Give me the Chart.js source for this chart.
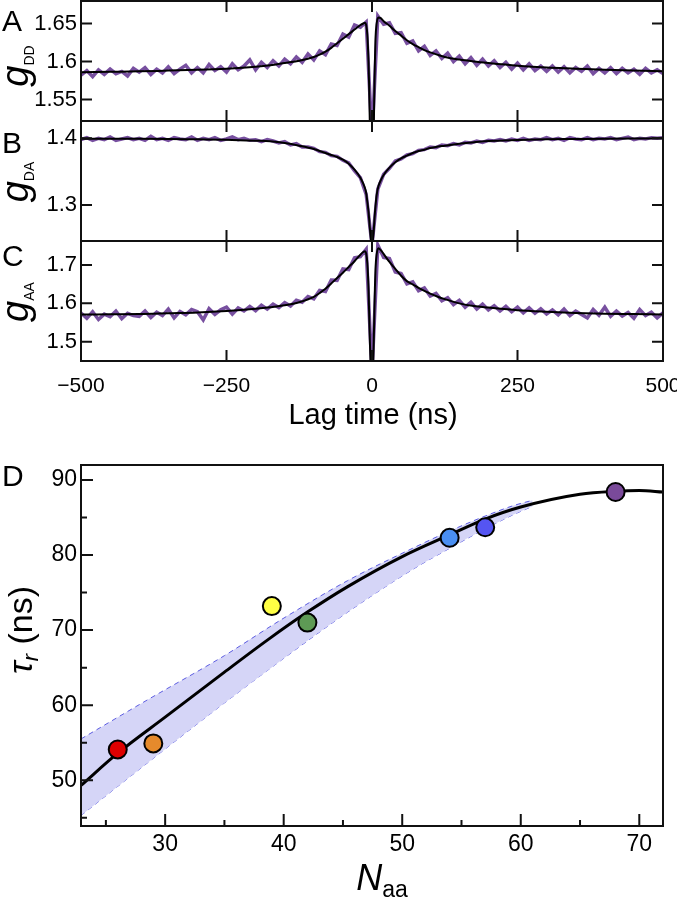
<!DOCTYPE html>
<html>
<head>
<meta charset="utf-8">
<script src="https://cdn.jsdelivr.net/npm/chart.js@4.4.1/dist/chart.umd.min.js"></script>
<style>
  html, body { margin: 0; padding: 0; background: #fff; }
  #wrap { position: relative; width: 677px; height: 900px; background: #fff; overflow: hidden; }
  canvas { position: absolute; left: 0; }
  .lbl { position: absolute; font-family: 'Liberation Sans', Arial, sans-serif; color: #000; line-height: 1; white-space: nowrap; }
  .panel { font-size: 30px; left: 2px; }
  .ylab { transform: translate(-50%, -50%) rotate(-90deg); }
  .xlab { transform: translate(-50%, -50%); }
  .sub { position: relative; }
</style>
</head>
<body>
<div id="wrap">
  <canvas id="chartA" width="677" height="122" style="top:0px"></canvas>
  <canvas id="chartB" width="677" height="122" style="top:120px"></canvas>
  <canvas id="chartC" width="677" height="160" style="top:240px"></canvas>
  <canvas id="chartD" width="677" height="460" style="top:440px"></canvas>

  <div class="lbl panel" style="top:6px">A</div>
  <div class="lbl panel" style="top:128px">B</div>
  <div class="lbl panel" style="top:241px">C</div>
  <div class="lbl panel" style="top:461px">D</div>

  <div class="lbl ylab" style="left:15px;top:66px"><i style="font-size:38px">g</i><span class="sub" style="font-size:14px;top:6px">DD</span></div>
  <div class="lbl ylab" style="left:15px;top:182px"><i style="font-size:38px">g</i><span class="sub" style="font-size:14px;top:6px">DA</span></div>
  <div class="lbl ylab" style="left:15px;top:302px"><i style="font-size:38px">g</i><span class="sub" style="font-size:14px;top:6px">AA</span></div>
  <div class="lbl xlab" style="left:373px;top:414px;font-size:29px">Lag time (ns)</div>

  <div class="lbl ylab" style="left:20px;top:630px"><i style="font-size:34px">τ</i><i class="sub" style="font-size:22px;top:6px">r</i><span style="font-size:34px"> (ns)</span></div>
  <div class="lbl xlab" style="left:382px;top:878px"><i style="font-size:36px">N</i><span class="sub" style="font-size:23px;top:7px">aa</span></div>
</div>

<script>
// lag time grid of the measured correlations (ns)
const lagTimes = [
  -500, -490, -480, -470, -460, -450, -440, -430, -420, -410,
  -400, -390, -380, -370, -360, -350, -340, -330, -320, -310,
  -300, -290, -280, -270, -260, -250, -240, -230, -220, -210,
  -200, -190, -180, -170, -160, -150, -140, -130, -120, -110,
  -100, -90, -80, -70, -60, -50, -40, -30, -20, -10,
  0,
  10, 20, 30, 40, 50, 60, 70, 80, 90, 100,
  110, 120, 130, 140, 150, 160, 170, 180, 190, 200,
  210, 220, 230, 240, 250, 260, 270, 280, 290, 300,
  310, 320, 330, 340, 350, 360, 370, 380, 390, 400,
  410, 420, 430, 440, 450, 460, 470, 480, 490, 500
];

const gddData = [
  1.582, 1.588, 1.580, 1.589, 1.583, 1.590, 1.584, 1.587, 1.581, 1.591,
  1.586, 1.592, 1.583, 1.590, 1.585, 1.593, 1.584, 1.590, 1.595, 1.585,
  1.592, 1.585, 1.596, 1.588, 1.593, 1.586, 1.597, 1.589, 1.594, 1.602,
  1.589, 1.599, 1.592, 1.601, 1.594, 1.603, 1.597, 1.606, 1.599, 1.610,
  1.602, 1.614, 1.609, 1.623, 1.621, 1.636, 1.632, 1.648, 1.645, 1.652,
  1.50,
  1.660, 1.649, 1.651, 1.637, 1.638, 1.624, 1.627, 1.614, 1.620, 1.608,
  1.614, 1.604, 1.611, 1.600, 1.607, 1.597, 1.605, 1.595, 1.603, 1.594,
  1.601, 1.592, 1.599, 1.590, 1.598, 1.589, 1.597, 1.588, 1.594, 1.587,
  1.594, 1.586, 1.593, 1.585, 1.592, 1.587, 1.594, 1.584, 1.591, 1.585,
  1.592, 1.584, 1.591, 1.585, 1.590, 1.583, 1.591, 1.585, 1.589, 1.584
];

const gdaData = [
  1.398, 1.401, 1.397, 1.400, 1.398, 1.402, 1.397, 1.399, 1.401, 1.398,
  1.400, 1.397, 1.403, 1.398, 1.400, 1.397, 1.401, 1.399, 1.398, 1.402,
  1.397, 1.400, 1.398, 1.401, 1.397, 1.399, 1.402, 1.398, 1.400, 1.397,
  1.398, 1.395, 1.398, 1.396, 1.393, 1.395, 1.390, 1.392, 1.387, 1.387,
  1.385, 1.380, 1.379, 1.374, 1.373, 1.367, 1.363, 1.351, 1.341, 1.316,
  1.24,
  1.324, 1.346, 1.355, 1.366, 1.369, 1.375, 1.377, 1.382, 1.383, 1.387,
  1.386, 1.390, 1.389, 1.392, 1.390, 1.394, 1.393, 1.396, 1.394, 1.397,
  1.396, 1.398, 1.396, 1.399, 1.397, 1.400, 1.397, 1.399, 1.398, 1.401,
  1.398, 1.400, 1.397, 1.401, 1.399, 1.398, 1.401, 1.398, 1.400, 1.399,
  1.401, 1.398, 1.400, 1.402, 1.398, 1.400, 1.399, 1.401, 1.400, 1.401
];

const gaaData = [
  1.575, 1.561, 1.578, 1.558, 1.572, 1.565, 1.580, 1.560, 1.574, 1.568,
  1.566, 1.580, 1.563, 1.577, 1.568, 1.585, 1.562, 1.579, 1.570, 1.584,
  1.578, 1.557, 1.586, 1.571, 1.583, 1.590, 1.572, 1.588, 1.580, 1.592,
  1.581, 1.595, 1.585, 1.598, 1.589, 1.602, 1.593, 1.608, 1.603, 1.618,
  1.612, 1.634, 1.631, 1.661, 1.660, 1.690, 1.688, 1.719, 1.722, 1.741,
  1.42,
  1.752, 1.720, 1.717, 1.682, 1.678, 1.651, 1.656, 1.633, 1.640, 1.619,
  1.626, 1.607, 1.615, 1.597, 1.608, 1.590, 1.603, 1.585, 1.598, 1.583,
  1.594, 1.580, 1.592, 1.578, 1.590, 1.575, 1.588, 1.574, 1.586, 1.572,
  1.583, 1.570, 1.585, 1.568, 1.580, 1.571, 1.562, 1.584, 1.569, 1.590,
  1.566, 1.580, 1.567, 1.576, 1.561, 1.584, 1.568, 1.577, 1.562, 1.575
];

// fitted curves, sampled densely around zero lag
const fitLags = [
  -500, -450, -400, -350, -300, -250, -200, -175, -150, -125, -100,
  -90, -80, -70, -60, -50, -40, -30, -20,
  -15, -12, -10, -8, -6, -5, -4, -2, 0, 2, 3, 4, 5, 6, 8, 11, 15,
  20, 30, 40, 50, 60, 70, 80, 90, 100,
  112, 125, 150, 175, 200, 250, 300, 350, 400, 450, 500
];
const gddFit = [
  1.586, 1.5865, 1.587, 1.588, 1.589, 1.5905, 1.593, 1.595, 1.598, 1.601, 1.606,
  1.609, 1.613, 1.618, 1.624, 1.630, 1.636, 1.642, 1.648,
  1.650, 1.651, 1.648, 1.635, 1.60, 1.57, 1.53, 1.46, 1.44, 1.47, 1.51, 1.56, 1.60, 1.63, 1.650, 1.658, 1.657,
  1.653, 1.647, 1.640, 1.634, 1.628, 1.623, 1.619, 1.615, 1.612,
  1.609, 1.606, 1.6025, 1.600, 1.598, 1.5945, 1.592, 1.5905, 1.589, 1.588, 1.587
];
const gdaFit = [
  1.3995, 1.3995, 1.3993, 1.399, 1.3985, 1.398, 1.3965, 1.3955, 1.393, 1.389, 1.384,
  1.381, 1.378, 1.375, 1.372, 1.368, 1.362, 1.353, 1.341,
  1.332, 1.325, 1.318, 1.305, 1.29, 1.28, 1.268, 1.25, 1.235, 1.252, 1.262, 1.275, 1.288, 1.298, 1.315, 1.328, 1.337,
  1.345, 1.356, 1.364, 1.370, 1.374, 1.378, 1.381, 1.383, 1.3855,
  1.3875, 1.389, 1.392, 1.394, 1.396, 1.3975, 1.3985, 1.399, 1.3995, 1.3998, 1.400
];
const gaaFit = [
  1.571, 1.5715, 1.572, 1.574, 1.576, 1.580, 1.586, 1.590, 1.595, 1.603, 1.617,
  1.627, 1.638, 1.652, 1.666, 1.680, 1.695, 1.710, 1.727,
  1.734, 1.736, 1.730, 1.705, 1.64, 1.58, 1.52, 1.43, 1.40, 1.44, 1.50, 1.57, 1.64, 1.69, 1.728, 1.744, 1.739,
  1.729, 1.708, 1.690, 1.672, 1.658, 1.6495, 1.6405, 1.6325, 1.6255,
  1.618, 1.611, 1.600, 1.593, 1.589, 1.582, 1.578, 1.575, 1.573, 1.572, 1.571
];

const lagTicks = [-500, -250, 0, 250, 500];
const gddTicks = [1.55, 1.6, 1.65];
const gdaTicks = [1.3, 1.4];
const gaaTicks = [1.5, 1.6, 1.7];

// panel D
const naa = [26, 29, 39, 42, 54, 57, 68];
const tauR = [54.1, 54.9, 73.2, 71.0, 82.3, 83.7, 88.4];
const pointColors = ['#dd0000', '#e58a2c', '#ffff44', '#5e9a55', '#4a8ff2', '#5555f2', '#7a4a9a'];
const fitN = [22.9, 26, 30, 35, 38.65, 42, 45.4, 50, 54, 57, 60, 65, 68, 70, 72];
const fitTau = [49.3, 53.6, 58.4, 64.4, 68.7, 72.4, 75.8, 79.8, 82.7, 84.8, 86.4, 88.1, 88.5, 88.6, 88.4];
const bandN = [22.9, 28.5, 35, 39.8, 45.4, 51, 54, 57, 59.4, 61];
const bandUpper = [55.5, 60.7, 66.6, 71.4, 76.6, 81.0, 83.2, 85.2, 86.6, 87.3];
const bandLower = [45.3, 52.3, 60.3, 66.0, 72.4, 78.2, 80.9, 83.5, 85.4, 86.5];
const naaTicks = [30, 40, 50, 60, 70];
const naaMinor = [25, 35, 45, 55, 65];
const tauTicks = [50, 60, 70, 80, 90];
const tauMinor = [45, 55, 65, 75, 85];

const purple = '#7850a0';
Chart.defaults.font.family = "'Liberation Sans', Arial, sans-serif";
Chart.defaults.color = '#000';

const pts = (xs, ys) => xs.map((x, i) => ({ x: x, y: ys[i] }));
const fmt = v => (v < 0 ? '\u2212' + Math.abs(v) : String(v));

// box around the plot area with ticks pointing inwards
const frameTicks = {
    id: 'frameTicks',
    afterDatasetsDraw(chart, args, o) {
        const { ctx, chartArea: a } = chart;
        const x = chart.scales.x, y = chart.scales.y;
        ctx.save();
        ctx.strokeStyle = '#111';
        ctx.lineWidth = 2;
        ctx.beginPath();
        [[o.xMajor, o.len], [o.xMinor || [], o.len / 2]].forEach(([vals, len]) => {
            vals.forEach(v => {
                const px = x.getPixelForValue(v);
                ctx.moveTo(px, a.bottom); ctx.lineTo(px, a.bottom - len);
                if (o.mirror) { ctx.moveTo(px, a.top); ctx.lineTo(px, a.top + len); }
            });
        });
        [[o.yMajor, o.len], [o.yMinor || [], o.len / 2]].forEach(([vals, len]) => {
            vals.forEach(v => {
                const py = y.getPixelForValue(v);
                ctx.moveTo(a.left, py); ctx.lineTo(a.left + len, py);
                if (o.mirror) { ctx.moveTo(a.right, py); ctx.lineTo(a.right - len, py); }
            });
        });
        ctx.stroke();
        ctx.strokeRect(a.left, a.top, a.right - a.left, a.bottom - a.top);
        ctx.restore();
    }
};

function lagChart(id, data, fit, yMin, yMax, yTicks, showLabels) {
    return new Chart(document.getElementById(id), {
        type: 'scatter',
        data: {
            datasets: [
                {
                    data: pts(fitLags, fit),
                    showLine: true,
                    borderColor: '#000',
                    borderWidth: 2,
                    pointRadius: 0,
                    cubicInterpolationMode: 'monotone'
                },
                {
                    data: pts(lagTimes, data),
                    showLine: true,
                    borderColor: purple,
                    borderWidth: 3.5,
                    pointRadius: 0,
                    tension: 0
                }
            ]
        },
        options: {
            responsive: false,
            animation: false,
            events: [],
            layout: { padding: { top: 1, right: 14, bottom: showLabels ? 0 : 1, left: 0 } },
            plugins: {
                legend: { display: false },
                tooltip: { enabled: false },
                frameTicks: { xMajor: lagTicks, yMajor: yTicks, len: 11, mirror: true }
            },
            scales: {
                x: {
                    type: 'linear', min: -500, max: 500,
                    afterBuildTicks: s => { s.ticks = lagTicks.map(v => ({ value: v })); },
                    grid: { display: false, drawTicks: false },
                    border: { display: false },
                    ticks: { display: showLabels, padding: 13, maxRotation: 0, autoSkip: false, font: { size: 21 }, callback: v => fmt(v) },
                    afterFit: s => { s.height = showLabels ? 39 : 0; s.paddingLeft = 0; s.paddingRight = 0; }
                },
                y: {
                    min: yMin, max: yMax,
                    afterBuildTicks: s => { s.ticks = yTicks.map(v => ({ value: v })); },
                    grid: { display: false, drawTicks: false },
                    border: { display: false },
                    ticks: { padding: 4, font: { size: 22 }, callback: v => String(v) },
                    afterFit: s => { s.width = 81; s.paddingTop = 0; s.paddingBottom = 0; }
                }
            }
        },
        plugins: [frameTicks]
    });
}

lagChart('chartA', gddData, gddFit, 1.5217, 1.6796, gddTicks, false);
lagChart('chartB', gdaData, gdaFit, 1.246, 1.426, gdaTicks, false);
lagChart('chartC', gaaData, gaaFit, 1.4496, 1.7627, gaaTicks, true);

new Chart(document.getElementById('chartD'), {
    type: 'scatter',
    data: {
        datasets: [
            {
                data: pts(naa, tauR),
                pointRadius: 9,
                pointBackgroundColor: pointColors,
                pointBorderColor: '#000',
                pointBorderWidth: 2
            },
            {
                data: pts(fitN, fitTau),
                showLine: true,
                borderColor: '#000',
                borderWidth: 3,
                pointRadius: 0,
                cubicInterpolationMode: 'monotone'
            },
            {
                data: pts(bandN, bandUpper),
                showLine: true,
                borderColor: '#5b5be0',
                borderWidth: 1,
                borderDash: [5, 4],
                pointRadius: 0,
                cubicInterpolationMode: 'monotone',
                fill: '+1',
                backgroundColor: '#d5d5f7'
            },
            {
                data: pts(bandN, bandLower),
                showLine: true,
                borderColor: '#5b5be0',
                borderWidth: 1,
                borderDash: [5, 4],
                pointRadius: 0,
                cubicInterpolationMode: 'monotone'
            }
        ]
    },
    options: {
        responsive: false,
        animation: false,
        events: [],
        layout: { padding: { top: 25, right: 14, bottom: 0, left: 0 } },
        plugins: {
            legend: { display: false },
            tooltip: { enabled: false },
            frameTicks: { xMajor: naaTicks, xMinor: naaMinor, yMajor: tauTicks, yMinor: tauMinor, len: 12, mirror: false }
        },
        scales: {
            x: {
                type: 'linear', min: 22.9, max: 72,
                afterBuildTicks: s => { s.ticks = naaTicks.map(v => ({ value: v })); },
                grid: { display: false, drawTicks: false },
                border: { display: false },
                ticks: { padding: 5, maxRotation: 0, autoSkip: false, font: { size: 23 } },
                afterFit: s => { s.height = 74; s.paddingLeft = 0; s.paddingRight = 0; }
            },
            y: {
                min: 43.9, max: 92,
                afterBuildTicks: s => { s.ticks = tauTicks.map(v => ({ value: v })); },
                grid: { display: false, drawTicks: false },
                border: { display: false },
                ticks: { padding: 4, font: { size: 23 } },
                afterFit: s => { s.width = 81; s.paddingTop = 0; s.paddingBottom = 0; }
            }
        }
    },
    plugins: [frameTicks]
});
</script>
</body>
</html>
